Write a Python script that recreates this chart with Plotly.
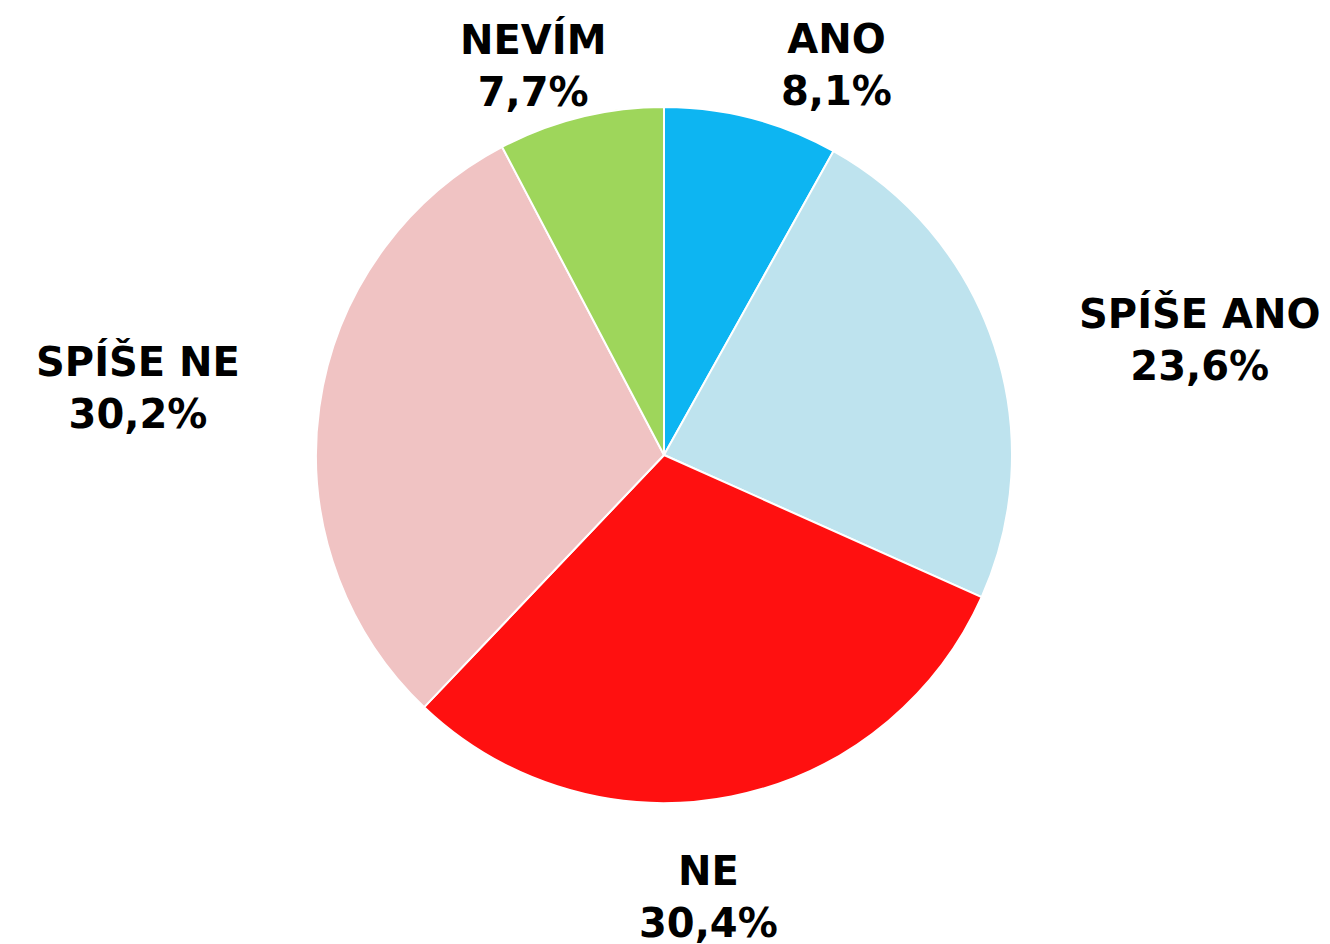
import plotly.graph_objects as go

labels = ["ANO", "SPÍŠE ANO", "NE", "SPÍŠE NE", "NEVÍM"]
values = [8.1, 23.6, 30.4, 30.2, 7.7]
colors = ["#0DB5F2", "#BEE3EE", "#FF1010", "#F0C3C3", "#9ED65B"]

# label positions (pixels in the 1330x944 page)
label_px = [(828, 57), (1192, 332), (700, 889), (130, 379), (525, 57)]

W, H = 1330, 944
cx, cy, r = 656, 447, 348

fig = go.Figure(go.Pie(
    labels=labels,
    values=values,
    sort=False,
    direction="clockwise",
    rotation=0,
    marker=dict(colors=colors, line=dict(color="white", width=2)),
    textinfo="none",
    hoverinfo="label+percent",
    domain=dict(x=[(cx - r) / W, (cx + r) / W],
                y=[(H - cy - r) / H, (H - cy + r) / H]),
    showlegend=False,
))

annotations = []
for lab, val, (px, py) in zip(labels, values, label_px):
    txt = f"{lab}<br>{val:.1f}%".replace(".", ",")
    annotations.append(dict(
        text=txt, x=px / W, y=1 - py / H, xref="paper", yref="paper",
        xanchor="center", yanchor="middle", showarrow=False,
        font=dict(family="Verdana, DejaVu Sans", size=40, color="black", weight="bold"),
    ))

fig.update_layout(
    width=W, height=H,
    margin=dict(l=0, r=0, t=0, b=0),
    paper_bgcolor="white", plot_bgcolor="white",
    annotations=annotations,
)

fig.write_html("out.html")
